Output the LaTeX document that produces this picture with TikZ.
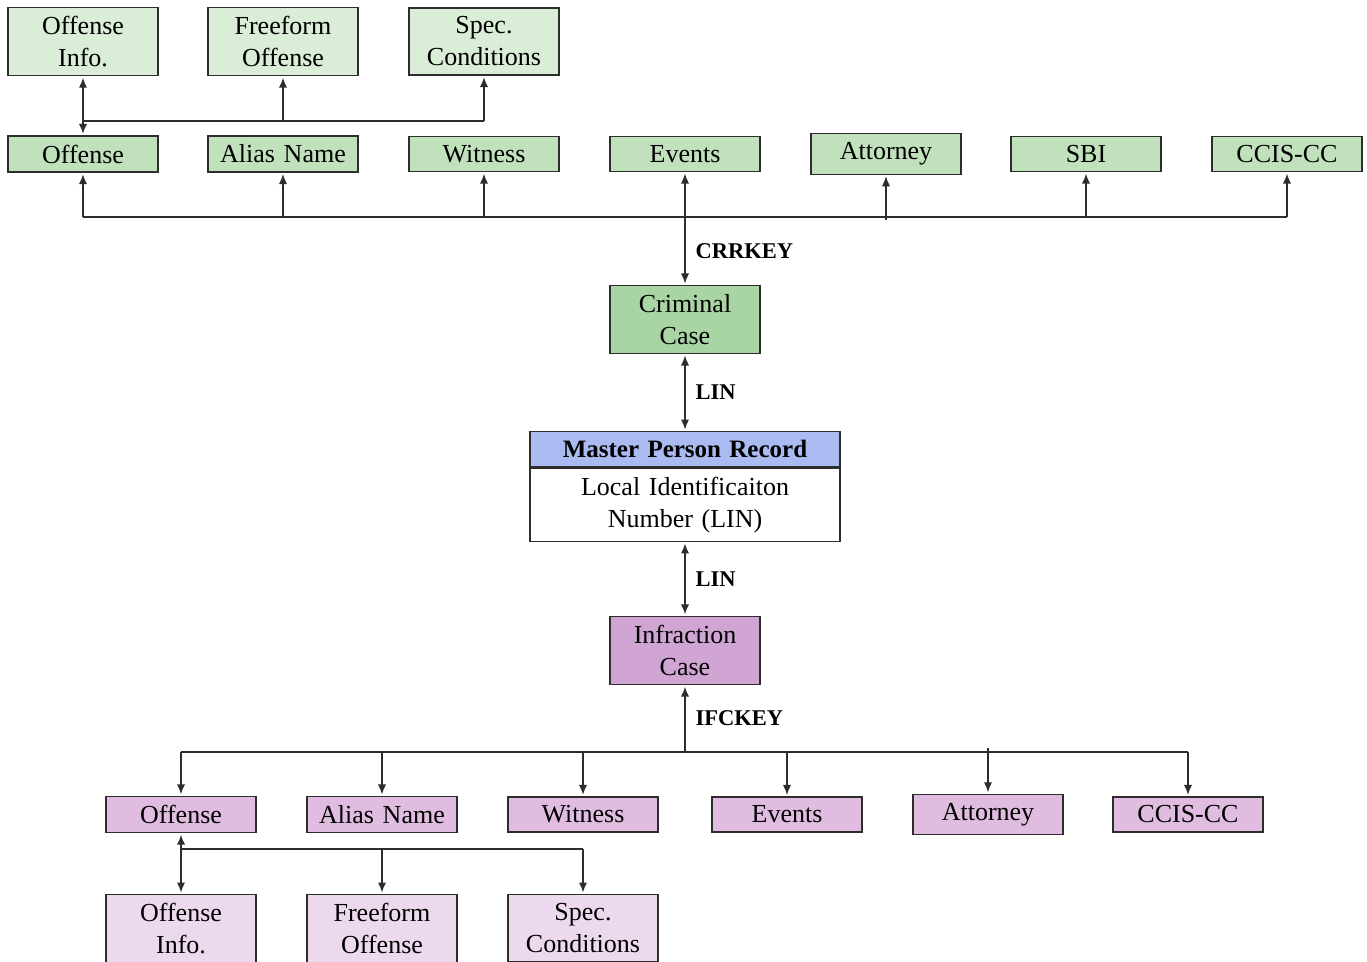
\documentclass[tikz,border=0pt]{standalone}
\usepackage{fontspec}
\setmainfont{Liberation Serif}
\usetikzlibrary{arrows.meta,positioning}
\definecolor{gA}{RGB}{218,237,214}
\definecolor{gB}{RGB}{193,225,189}
\definecolor{gC}{RGB}{168,213,163}
\definecolor{bH}{RGB}{169,187,240}
\definecolor{pC}{RGB}{208,165,211}
\definecolor{pB}{RGB}{224,189,224}
\definecolor{pA}{RGB}{237,217,237}
\definecolor{edge}{RGB}{45,45,45}
\tikzset{
  box/.style={draw=edge, line width=0.5pt, minimum width=60pt, text width=58pt, align=center,
    inner xsep=1pt, inner ysep=3.5pt, font=\fontsize{10.4}{12.8}\selectfont},
  wbox/.style={box, minimum width=124pt, text width=122pt},
  conn/.style={draw=edge, line width=0.55pt},
  arr/.style={conn, -{Latex[length=4pt,width=3.3pt]}, shorten >=0.6pt},
  darr/.style={conn, {Latex[length=4pt,width=3.3pt]}-{Latex[length=4pt,width=3.3pt]}, shorten >=0.6pt, shorten <=0.6pt},
  lbl/.style={font=\fontsize{9}{11}\selectfont\bfseries, inner sep=1pt, right=3pt}
}
\begin{document}
\begin{tikzpicture}[x=0.4pt,y=-0.4pt]
\useasboundingbox (0,0) rectangle (1367,961);
% top tier (criminal)
\node[box, fill=gA] (coi) at (83,41.5) {Offense\\Info.};
\node[box, fill=gA] (cff) at (283,41.5) {Freeform\\Offense};
\node[box, fill=gA] (csc) at (484,41.5) {Spec.\\Conditions};
\node[box, fill=gB] (coff) at (83,154) {Offense};
\node[box, fill=gB] (cal) at (283,154) {Alias Name};
\node[box, fill=gB] (cwit) at (484,154) {Witness};
\node[box, fill=gB] (cev) at (685,154) {Events};
\node[box, fill=gB] (catt) at (886,154) {Attorney};
\node[box, fill=gB] (csbi) at (1086,154) {SBI};
\node[box, fill=gB] (ccc) at (1287,154) {CCIS-CC};
\node[box, fill=gC] (crim) at (685,319.5) {Criminal\\Case};
% master record
\node[wbox, fill=bH, anchor=north, font=\fontsize{10}{12.8}\selectfont\bfseries] (mprh) at (685,431) {Master Person Record};
\node[wbox, fill=white, anchor=north] (mprb) at (mprh.south) {Local Identificaiton\\Number (LIN)};
% infraction
\node[box, fill=pC] (inf) at (685,650.5) {Infraction\\Case};
\node[box, fill=pB] (ioff) at (181,814.5) {Offense};
\node[box, fill=pB] (ial) at (382,814.5) {Alias Name};
\node[box, fill=pB] (iwit) at (583,814.5) {Witness};
\node[box, fill=pB] (iev) at (787,814.5) {Events};
\node[box, fill=pB] (iatt) at (988,814.5) {Attorney};
\node[box, fill=pB] (icc) at (1188,814.5) {CCIS-CC};
\node[box, fill=pA, anchor=north] (ioi) at (181,894) {Offense\\Info.};
\node[box, fill=pA, anchor=north] (iff) at (382,894) {Freeform\\Offense};
\node[box, fill=pA, anchor=north] (isc) at (583,894) {Spec.\\Conditions};
% coordinates
\coordinate (j1) at (83,121);
\coordinate (bus1) at (83,217);
\coordinate (bus1e) at (1287,217);
\coordinate (attlow) at (886,220);
\coordinate (bus2) at (181,752);
\coordinate (bus2e) at (1188,752);
\coordinate (atthigh) at (988,748);
\coordinate (j2) at (181,849);
\coordinate (j2e) at (583,849);
% top sub-tree
\draw[arr] (j1) -- (coff.north);
\draw[arr] (j1) -- (coi.south);
\draw[conn] (j1) -- (csc.south |- j1);
\draw[arr] (cff.south |- j1) -- (cff.south);
\draw[arr] (csc.south |- j1) -- (csc.south);
% criminal bus
\draw[conn] (bus1) -- (bus1e);
\draw[arr] (bus1) -- (coff.south);
\draw[arr] (cal.south |- bus1) -- (cal.south);
\draw[arr] (cwit.south |- bus1) -- (cwit.south);
\draw[arr] (attlow) -- (catt.south);
\draw[arr] (csbi.south |- bus1) -- (csbi.south);
\draw[arr] (bus1e) -- (ccc.south);
\draw[darr] (cev.south) -- node[lbl, pos=0.7] {CRRKEY} (crim.north);
% master links
\draw[darr] (crim.south) -- node[lbl] {LIN} (mprh.north);
\draw[darr] (mprb.south) -- node[lbl] {LIN} (inf.north);
% infraction bus
\draw[arr] (inf.south |- bus2) -- node[lbl, pos=0.5] {IFCKEY} (inf.south);
\draw[conn] (bus2) -- (bus2e);
\draw[arr] (bus2) -- (ioff.north);
\draw[arr] (ial.north |- bus2) -- (ial.north);
\draw[arr] (iwit.north |- bus2) -- (iwit.north);
\draw[arr] (iev.north |- bus2) -- (iev.north);
\draw[arr] (atthigh) -- (iatt.north);
\draw[arr] (bus2e) -- (icc.north);
% infraction sub-tree
\draw[conn] (j2) -- (j2e);
\draw[arr] (j2) -- (ioff.south);
\draw[arr] (j2) -- (ioi.north);
\draw[arr] (iff.north |- j2) -- (iff.north);
\draw[arr] (j2e) -- (isc.north);
\end{tikzpicture}
\end{document}
